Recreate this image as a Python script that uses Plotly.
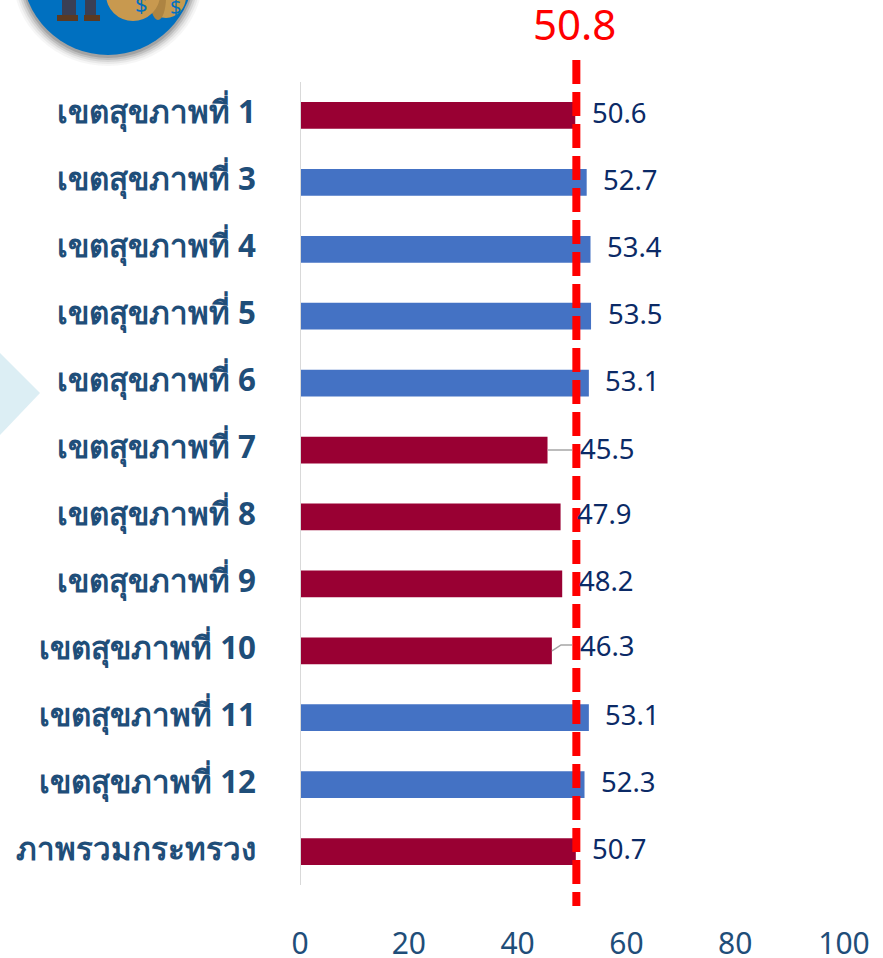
import plotly.graph_objects as go

categories = ["เขตสุขภาพที่ 1", "เขตสุขภาพที่ 3", "เขตสุขภาพที่ 4", "เขตสุขภาพที่ 5", "เขตสุขภาพที่ 6",
              "เขตสุขภาพที่ 7", "เขตสุขภาพที่ 8", "เขตสุขภาพที่ 9", "เขตสุขภาพที่ 10", "เขตสุขภาพที่ 11",
              "เขตสุขภาพที่ 12", "ภาพรวมกระทรวง"]
values = [50.6, 52.7, 53.4, 53.5, 53.1, 45.5, 47.9, 48.2, 46.3, 53.1, 52.3, 50.7]
target = 50.8
x_ticks = [0, 20, 40, 60, 80, 100]

W, H = 883, 958
L, R, T, B = 300, 39, 82, 73
PW, PH = W - L - R, H - T - B
RED = "#990033"
BLUE = "#4472C4"
FONT = "Noto Sans, sans-serif"

def px(x):
    return (x - L) / PW

def py(y):
    return 1 - (y - T) / PH

def paper(**kw):
    return dict(xref="paper", yref="paper", layer="below", **kw)

def ellipse(x0, y0, x1, y1, color, opacity=1.0):
    return paper(type="circle", x0=px(x0), x1=px(x1), y0=py(y0), y1=py(y1),
                 fillcolor=color, opacity=opacity, line=dict(width=0))

def rect(x0, y0, x1, y1, color):
    return paper(type="rect", x0=px(x0), x1=px(x1), y0=py(y0), y1=py(y1),
                 fillcolor=color, line=dict(width=0))

def polygon(points, color):
    d = "M " + " L ".join(f"{px(a):.5f},{py(b):.5f}" for a, b in points) + " Z"
    return paper(type="path", path=d, fillcolor=color, line=dict(width=0))

shapes = [polygon([(0, 353), (40, 393), (0, 435)], "#DCEEF4")]
# logo: soft shadow, disc, figure and money bags
for grow, op in [(9, .05), (7, .08), (5, .12), (3, .18), (1, .25)]:
    shapes.append(ellipse(108 - 86 - grow, -31 - 86 + 4, 108 + 86 + grow, -31 + 86 + 2 + grow, "#555555", op))
shapes += [
    ellipse(22, -117, 194, 55, "#0070C0"),
    rect(62, -2, 76, 16, "#3A3F55"),
    rect(85, -2, 96, 16, "#3A3F55"),
    rect(57, 15, 78, 21, "#5B3A22"),
    rect(84, 15, 100, 21, "#5B3A22"),
    ellipse(146, -25, 186, 18, "#C49A50"),
    ellipse(150, -25, 166, 20, "#AD8442"),
    ellipse(106, -32, 160, 21, "#C8994F"),
]

# label offsets (px) from the bar end; two labels are pulled out with leader lines
offsets = {5: (60, -2), 6: (44, -3), 7: (44, -3), 8: (56, -5)}

fig = go.Figure(go.Bar(
    x=values, y=categories, orientation="h", width=0.4,
    marker=dict(color=[BLUE if v > target else RED for v in values], line=dict(width=0)),
    hoverinfo="skip", showlegend=False,
))

annotations = []
for i, (c, v) in enumerate(zip(categories, values)):
    dx, dy = offsets.get(i, (44, -3))
    annotations.append(dict(x=v, y=c, text=f"{v:.1f}", showarrow=False, xshift=dx, yshift=-dy,
                            font=dict(size=27.5, color="#0B2A66", family=FONT)))

annotations += [
    dict(x=target, xref="x", y=py(24), yref="paper", yanchor="middle", xshift=-2, text=f"{target:.1f}", showarrow=False,
         font=dict(size=42, color="#FF0000", family=FONT)),
    dict(x=px(168), y=py(6), xref="paper", yref="paper", yanchor="middle", text="$", showarrow=False,
         font=dict(size=20, color="#0070C0", family=FONT)),
    dict(x=px(133), y=py(3), xref="paper", yref="paper", yanchor="middle", text="$", showarrow=False,
         font=dict(size=22, color="#0070C0", family=FONT)),
]

# y axis baseline
shapes.append(dict(type="line", xref="x", yref="paper", x0=0, x1=0, y0=0, y1=1,
                   line=dict(color="#D9D9D9", width=2), layer="above"))
# leader lines
shapes.append(dict(type="path", xref="paper", yref="paper", layer="above",
                   path=f"M {px(548):.5f},{py(450):.5f} L {px(572):.5f},{py(450):.5f}",
                   line=dict(color="#A6A6A6", width=1.5)))
shapes.append(dict(type="path", xref="paper", yref="paper", layer="above",
                   path=f"M {px(552):.5f},{py(651):.5f} L {px(561):.5f},{py(645):.5f} L {px(572):.5f},{py(645):.5f}",
                   line=dict(color="#A6A6A6", width=1.5)))
# target line
shapes.append(dict(type="line", xref="x", yref="paper", x0=target, x1=target, y0=py(60), y1=py(906),
                   line=dict(color="#FF0000", width=8, dash="24px,8px"), layer="above"))

fig.update_layout(
    width=W, height=H, margin=dict(l=L, r=R, t=T, b=B, pad=0), autosize=False,
    paper_bgcolor="white", plot_bgcolor="white",
    xaxis=dict(range=[0, 100], tickvals=x_ticks, showgrid=False, zeroline=False, showline=False,
               ticks="", ticklabelstandoff=38, automargin=False,
               tickfont=dict(size=30, color="#1F4E79", family=FONT), fixedrange=True),
    yaxis=dict(categoryorder="array", categoryarray=categories, autorange="reversed",
               showgrid=False, zeroline=False, showline=False, ticks="", automargin=False,
               ticklabelstandoff=43, ticklabelshift=3,
               tickfont=dict(size=31.3, color="#1F4E79", family=FONT, weight="bold"), fixedrange=True),
    shapes=shapes, annotations=annotations,
)

fig.write_html("out.html", config=dict(displayModeBar=False),
               post_script="document.body.style.margin='0';document.documentElement.style.overflow='hidden';")
